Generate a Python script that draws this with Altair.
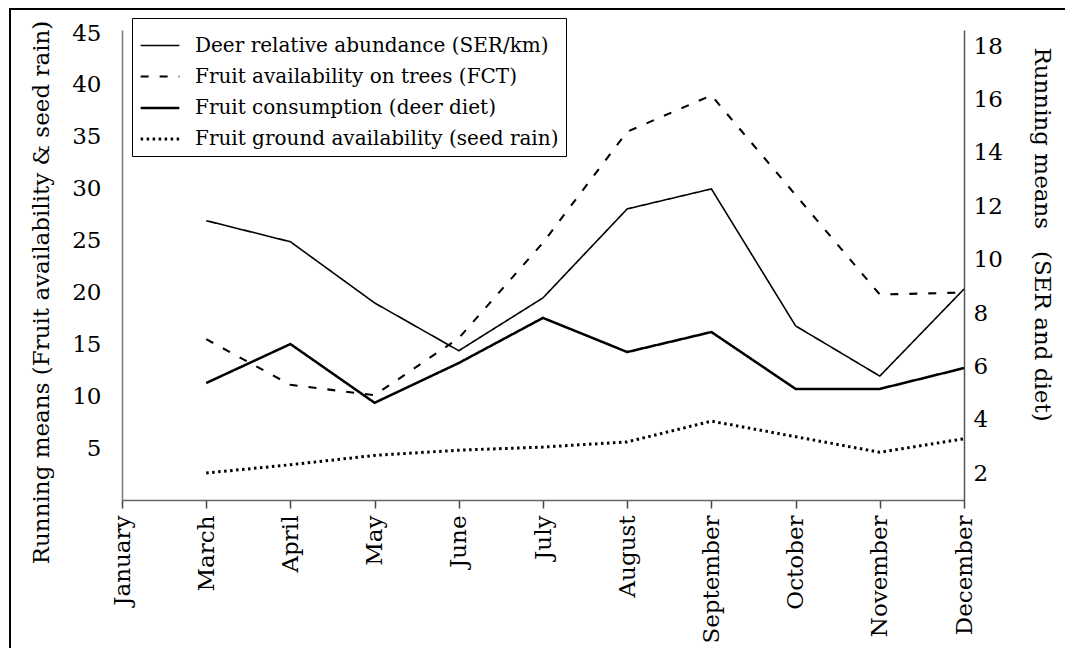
import altair as alt
import pandas as pd

months = ["January", "March", "April", "May", "June", "July", "August",
          "September", "October", "November", "December"]
data_months = months[1:]

series_names = [
    "Deer relative abundance (SER/km)",
    "Fruit availability on trees (FCT)",
    "Fruit consumption (deer diet)",
    "Fruit ground availability (seed rain)",
]

# right axis (SER and diet)
ser = [11.46, 10.67, 8.38, 6.59, 8.57, 11.90, 12.65, 7.52, 5.64, 8.90]
diet = [5.38, 6.84, 4.64, 6.13, 7.82, 6.54, 7.29, 5.16, 5.16, 5.94]
# left axis (fruit availability & seed rain)
fct = [15.5, 11.1, 10.1, 15.6, 24.8, 35.5, 39.0, 29.4, 19.8, 20.0]
seed = [2.6, 3.4, 4.3, 4.8, 5.1, 5.6, 7.6, 6.1, 4.6, 5.9]

left_ticks = [5, 10, 15, 20, 25, 30, 35, 40, 45]
right_ticks = [2, 4, 6, 8, 10, 12, 14, 16, 18]

FONT = "DejaVu Serif"

left_df = pd.DataFrame({
    "month": data_months * 2,
    "value": fct + seed,
    "series": [series_names[1]] * len(fct) + [series_names[3]] * len(seed),
})
right_df = pd.DataFrame({
    "month": data_months * 2,
    "value": ser + diet,
    "series": [series_names[0]] * len(ser) + [series_names[2]] * len(diet),
})

legend = alt.Legend(
    title=None, orient="none", legendX=10, legendY=-12, direction="vertical",
    strokeColor="black", padding=7, fillColor="white",
    labelFont=FONT, labelFontSize=20, labelColor="black", labelLimit=700,
    symbolType="stroke", symbolSize=1500, symbolStrokeColor="black",
    rowPadding=-1, labelOffset=14,
)

x_enc = alt.X(
    "month:O",
    scale=alt.Scale(domain=months, padding=0),
    axis=alt.Axis(
        title=None, labelAngle=270, labelFont=FONT, labelFontSize=23,
        labelColor="black", labelPadding=7, tickSize=8, tickColor="#444",
        tickWidth=1.5, domainColor="#666", domainWidth=1.5, labelOverlap=False,
        grid=False,
    ),
)

dash_enc = alt.StrokeDash(
    "series:N",
    scale=alt.Scale(domain=series_names, range=[[1, 0], [8, 11], [1, 0], [2.5, 3.5]]),
    legend=legend,
)
width_enc = alt.StrokeWidth(
    "series:N",
    scale=alt.Scale(domain=series_names, range=[1.6, 3, 3.2, 2.6]),
    legend=legend,
)

left = alt.Chart(left_df).mark_line(color="black").encode(
    x=x_enc,
    y=alt.Y(
        "value:Q",
        scale=alt.Scale(domain=[0, 45.3], nice=False, zero=False),
        axis=alt.Axis(
            orient="left", values=left_ticks, ticks=False, tickSize=0,
            domainColor="#777", domainWidth=1.5, labelFont=FONT,
            labelFontSize=23, labelColor="black", labelPadding=21, grid=False,
            title="Running means (Fruit availability & seed rain)",
            titleFont=FONT, titleFontSize=23, titleFontWeight="normal",
            titleColor="black", titleX=-81, titleY=262, titleAngle=270,
            titleAlign="center", titleBaseline="middle",
        ),
    ),
    strokeDash=dash_enc,
    strokeWidth=width_enc,
)

right = alt.Chart(right_df).mark_line(color="black").encode(
    x=x_enc,
    y=alt.Y(
        "value:Q",
        scale=alt.Scale(domain=[1, 18.6], nice=False, zero=False),
        axis=alt.Axis(
            orient="right", values=right_ticks, ticks=False, tickSize=0,
            domainColor="#555", domainWidth=1.5, labelFont=FONT,
            labelFontSize=23, labelColor="black", labelPadding=9, grid=False,
            title="Running means\u00a0\u00a0 (SER and diet)",
            titleFont=FONT, titleFontSize=23, titleFontWeight="normal",
            titleColor="black", titleX=77, titleY=204, titleAngle=90,
            titleAlign="center", titleBaseline="middle",
        ),
    ),
    strokeDash=dash_enc,
    strokeWidth=width_enc,
)

frame = alt.Chart(pd.DataFrame({"a": [0]})).mark_rect(
    fill="transparent", stroke="black", strokeWidth=2
).encode(
    x=alt.value(-112), x2=alt.value(960), y=alt.value(-21), y2=alt.value(700)
)

chart = alt.layer(left, right, frame).resolve_scale(y="independent").properties(
    width=842, height=470,
    autosize=alt.AutoSizeParams(type="none"),
    padding={"left": 114, "top": 22, "right": 101, "bottom": 148},
).configure(font=FONT).configure_view(stroke="transparent")

chart.save("out.html", embed_options={"renderer": "svg", "actions": False})
